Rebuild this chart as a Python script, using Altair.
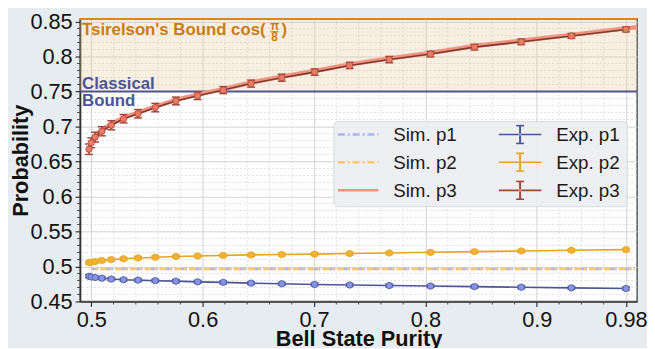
import altair as alt
import pandas as pd

# ---------------- data ----------------
purity = [0.498, 0.5, 0.5035, 0.5095, 0.518, 0.529, 0.542, 0.5575, 0.576, 0.5955,
          0.6185, 0.6435, 0.671, 0.7005, 0.732, 0.7675, 0.8045, 0.844, 0.886, 0.931, 0.98]
exp_p1 = [0.486, 0.485, 0.4843, 0.4833, 0.482, 0.481, 0.4805, 0.4797, 0.479, 0.478,
          0.4773, 0.4762, 0.4752, 0.4743, 0.4735, 0.4727, 0.472, 0.4712, 0.4703, 0.4694, 0.4685]
exp_p2 = [0.5055, 0.506, 0.507, 0.5085, 0.5098, 0.511, 0.5122, 0.5132, 0.5142, 0.515,
          0.5158, 0.5165, 0.517, 0.5176, 0.5184, 0.5192, 0.5202, 0.5212, 0.5222, 0.5231, 0.524]
exp_p3 = [0.6675, 0.6768, 0.6848, 0.6932, 0.7017, 0.7111, 0.7182, 0.727, 0.7365, 0.744,
          0.752, 0.7613, 0.7697, 0.7777, 0.7872, 0.7956, 0.8035, 0.8134, 0.821, 0.8294, 0.8387]
err_p1 = [0.002] * 21
err_p2 = [0.002] * 21
err_p3 = [0.0075, 0.007, 0.007, 0.0065, 0.0065, 0.006, 0.006, 0.006, 0.0055, 0.0055,
          0.005, 0.005, 0.005, 0.0045, 0.0045, 0.0045, 0.004, 0.004, 0.004, 0.0035, 0.0035]

sim_x3 = purity + [0.99]
sim_p3 = [0.669, 0.678, 0.6865, 0.695, 0.7035, 0.7125, 0.72, 0.7285, 0.738, 0.7455,
          0.7535, 0.7628, 0.7712, 0.7792, 0.7887, 0.7971, 0.805, 0.8149, 0.8225, 0.8309,
          0.8402, 0.8418]
sim_x12 = [0.5, 0.988]
sim_p1 = [0.4965, 0.4965]
sim_p2 = [0.4965, 0.4965]

classical_bound = 0.75
tsirelson_bound = 0.8536

x_major = [0.5, 0.6, 0.7, 0.8, 0.9, 0.98]
x_minor = [0.52, 0.54, 0.56, 0.58, 0.62, 0.64, 0.66, 0.68, 0.72, 0.74, 0.76, 0.78,
           0.82, 0.84, 0.86, 0.88, 0.92, 0.94, 0.96]
y_major = [0.45, 0.5, 0.55, 0.6, 0.65, 0.7, 0.75, 0.8, 0.85]
y_minor = [v / 100 for v in range(46, 86) if v % 5 != 0]

# ---------------- styling ----------------
FONT = "Liberation Sans"
W, H = 564, 286
XDOM = [0.49, 0.99]
YDOM = [0.45, 0.8536]

xs = alt.Scale(domain=XDOM, nice=False, zero=False)
ys = alt.Scale(domain=YDOM, nice=False, zero=False)

xaxis = alt.Axis(values=x_major, format=".2~f", title="Bell State Purity",
                 titleY=28, titleBaseline="top")
yaxis = alt.Axis(values=y_major, format=".2~f", title="Probability",
                 titleX=-53, titleBaseline="alphabetic")


def X(field):
    return alt.X(field, type="quantitative", scale=xs, axis=xaxis)


def Y(field):
    return alt.Y(field, type="quantitative", scale=ys, axis=yaxis)


def X2(field):
    return alt.X2(field)


def Y2(field):
    return alt.Y2(field)


one = pd.DataFrame({"k": [0]})

exp_df = pd.DataFrame({
    "x": purity * 3,
    "y": exp_p1 + exp_p2 + exp_p3,
    "err": err_p1 + err_p2 + err_p3,
    "s": ["p1"] * 21 + ["p2"] * 21 + ["p3"] * 21,
})
exp_df["lo"] = exp_df["y"] - exp_df["err"]
exp_df["hi"] = exp_df["y"] + exp_df["err"]

layers = []

# minor grid
layers.append(alt.Chart(pd.DataFrame({"x": x_minor})).mark_rule(
    color="#d9d9d9", strokeWidth=0.8, strokeDash=[2, 2]).encode(x=X("x")))
layers.append(alt.Chart(pd.DataFrame({"y": y_minor})).mark_rule(
    color="#d9d9d9", strokeWidth=0.8, strokeDash=[2, 2]).encode(y=Y("y")))
# minor ticks
layers.append(alt.Chart(pd.DataFrame({"x": x_minor})).mark_rule(
    color="#444", strokeWidth=1).encode(x=X("x"), y=alt.value(H), y2=alt.value(H + 3)))
layers.append(alt.Chart(pd.DataFrame({"y": y_minor})).mark_rule(
    color="#444", strokeWidth=1).encode(y=Y("y"), x=alt.value(-3), x2=alt.value(0)))

# quantum region shading
band = pd.DataFrame({"x": [XDOM[0]], "x2": [XDOM[1]],
                     "y": [classical_bound], "y2": [tsirelson_bound]})
layers.append(alt.Chart(band).mark_rect(color="#e8c89a", opacity=0.3).encode(
    x=X("x"), x2=X2("x2"), y=Y("y"), y2=Y2("y2")))

# bound lines
layers.append(alt.Chart(pd.DataFrame({"y": [classical_bound]})).mark_rule(
    color="#4d5694", strokeWidth=2).encode(y=Y("y")))
layers.append(alt.Chart(pd.DataFrame({"y": [tsirelson_bound]})).mark_rule(
    color="#d4891c", strokeWidth=2.2).encode(y=Y("y")))

# simulated lines
sim12 = pd.DataFrame({"x": sim_x12, "p1": sim_p1, "p2": sim_p2})
layers.append(alt.Chart(sim12).mark_line(
    color="#a9b5f2", strokeWidth=2.5, strokeDash=[7, 3, 2, 3]).encode(x=X("x"), y=Y("p1")))
layers.append(alt.Chart(sim12).mark_line(
    color="#ffc66b", strokeWidth=2.5, strokeDash=[7, 3, 2, 3], strokeDashOffset=6).encode(
    x=X("x"), y=Y("p2")))
sim3 = pd.DataFrame({"x": sim_x3, "y": sim_p3})
layers.append(alt.Chart(sim3).mark_line(
    color="#f09480", strokeWidth=4.5).encode(x=X("x"), y=Y("y")))

# experimental
line_col = {"p1": "#4b5597", "p2": "#e6a521", "p3": "#7d3a30"}
fill_col = {"p1": "#8494e6", "p2": "#f2b233", "p3": "#ee7c62"}
bar_col = {"p1": "#4b5597", "p2": "#e6a521", "p3": "#a0473c"}
for s in ["p1", "p2", "p3"]:
    d = exp_df[exp_df["s"] == s]
    base = alt.Chart(d)
    layers.append(base.mark_line(color=line_col[s], strokeWidth=1.6).encode(
        x=X("x"), y=Y("y")))
    layers.append(base.mark_rule(color=bar_col[s], strokeWidth=1.5).encode(
        x=X("x"), y=Y("lo"), y2=Y2("hi")))
    layers.append(base.mark_rule(color=bar_col[s], strokeWidth=1.5, xOffset=-4, x2Offset=4).encode(
        x=X("x"), x2=X2("x"), y=Y("lo")))
    layers.append(base.mark_rule(color=bar_col[s], strokeWidth=1.5, xOffset=-4, x2Offset=4).encode(
        x=X("x"), x2=X2("x"), y=Y("hi")))
    layers.append(base.mark_point(filled=True, fill=fill_col[s], stroke=bar_col[s],
                                  strokeWidth=0.8, opacity=1, size=42, shape="circle").encode(
        x=X("x"), y=Y("y")))

# annotations
ann = pd.DataFrame({"x": [XDOM[0]], "yc": [classical_bound], "yt": [tsirelson_bound]})
TS_COL = "#c97c14"
CL_COL = "#4b5595"
layers.append(alt.Chart(ann).mark_text(
    text="Tsirelson's Bound cos(", font=FONT, fontWeight="bold", fontSize=17,
    color=TS_COL, align="left", baseline="alphabetic", dx=2, dy=16).encode(
    x=X("x"), y=Y("yt")))
layers.append(alt.Chart(ann).mark_text(
    text="π", font=FONT, fontWeight="bold", fontSize=12,
    color=TS_COL, align="center", baseline="alphabetic", dx=197, dy=11).encode(
    x=X("x"), y=Y("yt")))
layers.append(alt.Chart(ann).mark_text(
    text="8", font=FONT, fontWeight="bold", fontSize=12,
    color=TS_COL, align="center", baseline="alphabetic", dx=197, dy=22).encode(
    x=X("x"), y=Y("yt")))
layers.append(alt.Chart(ann).mark_rule(
    color=TS_COL, strokeWidth=1.3, xOffset=193, x2Offset=201, yOffset=13, y2Offset=13).encode(
    x=X("x"), x2=X2("x"), y=Y("yt"), y2=Y2("yt")))
layers.append(alt.Chart(ann).mark_text(
    text=")", font=FONT, fontWeight="bold", fontSize=17,
    color=TS_COL, align="left", baseline="alphabetic", dx=204, dy=16).encode(
    x=X("x"), y=Y("yt")))
layers.append(alt.Chart(ann).mark_text(
    text="Classical", font=FONT, fontWeight="bold", fontSize=17,
    color=CL_COL, align="left", baseline="alphabetic", dx=2, dy=-2.5).encode(
    x=X("x"), y=Y("yc")))
layers.append(alt.Chart(ann).mark_text(
    text="Bound", font=FONT, fontWeight="bold", fontSize=17,
    color=CL_COL, align="left", baseline="alphabetic", dx=2, dy=14.5).encode(
    x=X("x"), y=Y("yc")))

# legend (drawn manually)
LX0, LX1, LY0, LY1 = 257, 554, 104, 190
layers.append(alt.Chart(one).mark_rect(
    fill="#eceef1", fillOpacity=0.92, stroke="#d6dade", strokeWidth=1, cornerRadius=4).encode(
    x=alt.value(LX0), x2=alt.value(LX1), y=alt.value(LY0), y2=alt.value(LY1)))

rows = [117, 145, 173.5]
sim_styles = [("#a9b5f2", [7, 3, 2, 3]), ("#ffc66b", [7, 3, 2, 3]), ("#f09480", None)]
sim_labels = ["Sim. p1", "Sim. p2", "Sim. p3"]
exp_labels = ["Exp. p1", "Exp. p2", "Exp. p3"]
for i, s in enumerate(["p1", "p2", "p3"]):
    ry = rows[i]
    col, dash = sim_styles[i]
    kw = dict(color=col, strokeWidth=2.5)
    if dash:
        kw["strokeDash"] = dash
    layers.append(alt.Chart(one).mark_rule(**kw).encode(
        x=alt.value(261), x2=alt.value(302), y=alt.value(ry)))
    layers.append(alt.Chart(one).mark_text(
        text=sim_labels[i], font=FONT, fontSize=19, color="#1a1a1a",
        align="left", baseline="middle").encode(x=alt.value(317), y=alt.value(ry + 1)))
    # exp symbol
    layers.append(alt.Chart(one).mark_rule(color=line_col[s] if s != "p3" else bar_col[s],
                                           strokeWidth=1.6).encode(
        x=alt.value(424), x2=alt.value(467), y=alt.value(ry)))
    layers.append(alt.Chart(one).mark_rule(color=bar_col[s], strokeWidth=2).encode(
        x=alt.value(445.5), y=alt.value(ry - 9), y2=alt.value(ry + 9)))
    for dy in (-9, 9):
        layers.append(alt.Chart(one).mark_rule(color=bar_col[s], strokeWidth=1.6).encode(
            x=alt.value(441.5), x2=alt.value(449.5), y=alt.value(ry + dy)))
    layers.append(alt.Chart(one).mark_point(
        filled=True, fill=fill_col[s], opacity=1, size=10, shape="circle").encode(
        x=alt.value(445.5), y=alt.value(ry)))
    layers.append(alt.Chart(one).mark_text(
        text=exp_labels[i], font=FONT, fontSize=19, color="#1a1a1a",
        align="left", baseline="middle").encode(x=alt.value(482), y=alt.value(ry + 1)))

chart = alt.layer(*layers).properties(
    width=W, height=H,
    background="#e6ecef",
    padding={"left": 73, "top": 9, "right": 10, "bottom": 45},
    autosize=alt.AutoSizeParams(type="none"),
).configure_view(
    fill="white", stroke="#555", strokeWidth=1.5,
).configure_axis(
    labelFont=FONT, labelFontSize=22, labelColor="#111",
    titleFont=FONT, titleFontSize=22, titleFontWeight="bold", titleColor="#111",
    tickColor="#333", tickSize=5, tickWidth=1.2,
    domainColor="#333", domainWidth=1.5,
    gridColor="#d2d2d2", gridWidth=1,
    labelPadding=3,
)

chart.save("out.html", embed_options={"renderer": "svg", "actions": False})
